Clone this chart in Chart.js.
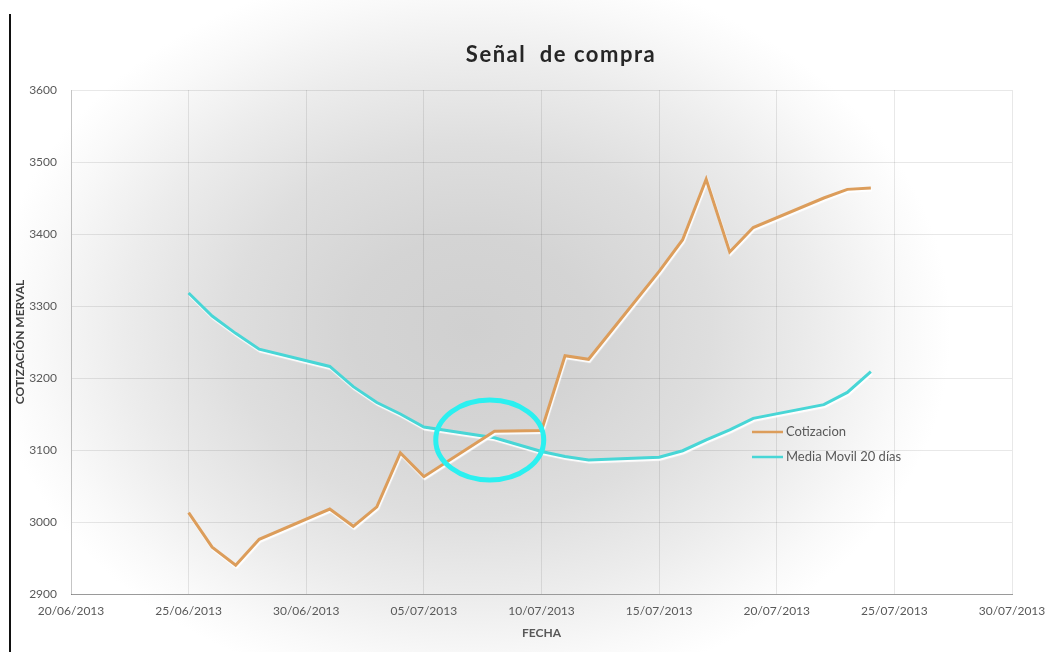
<!DOCTYPE html>
<html>
<head>
<meta charset="utf-8">
<script src="https://cdn.jsdelivr.net/npm/chart.js@4.4.1/dist/chart.umd.min.js"></script>
<style>
  html, body { margin: 0; padding: 0; background: #fff; }
  #wrap { position: relative; width: 1047px; height: 652px; }
</style>
</head>
<body>
<div id="wrap"><canvas id="senalChart" width="1047" height="652"></canvas></div>
<script>
// datos
const fechas = [
  '25/06/2013', '26/06/2013', '27/06/2013', '28/06/2013', '01/07/2013', '02/07/2013',
  '03/07/2013', '04/07/2013', '05/07/2013', '08/07/2013', '10/07/2013', '11/07/2013',
  '12/07/2013', '15/07/2013', '16/07/2013', '17/07/2013', '18/07/2013', '19/07/2013',
  '22/07/2013', '23/07/2013', '24/07/2013'
];
const cotizacion = [
  3013, 2965, 2940, 2976, 3018, 2994, 3021, 3096, 3063, 3126, 3127, 3231,
  3226, 3348, 3392, 3476, 3375, 3409, 3450, 3462, 3464
];
const mediaMovil = [
  3318, 3286, 3262, 3240, 3216, 3188, 3166, 3150, 3132, 3117, 3098, 3091,
  3086, 3090, 3099, 3114, 3128, 3144, 3163, 3180, 3209
];
const fechaInicio = '20/06/2013';
const fechaFin = '30/07/2013';
const yMin = 2900, yMax = 3600, yPaso = 100;
// centro del ovalo que marca el cruce
const cruceFecha = '08/07/2013';
const cruceValor = 3114;

const DIA = 86400000;
function aUTC(s) {
  const [d, m, a] = s.split('/').map(Number);
  return Date.UTC(a, m - 1, d);
}
function diasDesde(s) {
  return Math.round((aUTC(s) - aUTC(fechaInicio)) / DIA);
}
function aTexto(n) {
  const f = new Date(aUTC(fechaInicio) + n * DIA);
  const dd = String(f.getUTCDate()).padStart(2, '0');
  const mm = String(f.getUTCMonth() + 1).padStart(2, '0');
  return `${dd}/${mm}/${f.getUTCFullYear()}`;
}

const serieCot = fechas.map((f, i) => ({ x: diasDesde(f), y: cotizacion[i] }));
const serieMedia = fechas.map((f, i) => ({ x: diasDesde(f), y: mediaMovil[i] }));

const gris = '#595959';
const fuente = 'Lato, "Open Sans", sans-serif';

// fondo con degradado radial suave
const fondoPlugin = {
  id: 'fondo',
  beforeDraw(chart) {
    const { ctx, width, height } = chart;
    ctx.save();
    ctx.fillStyle = '#fff';
    ctx.fillRect(0, 0, width, height);
    ctx.translate(470, 330);
    ctx.scale(1.3, 1);
    const g = ctx.createRadialGradient(0, 0, 0, 0, 0, 370);
    g.addColorStop(0, '#d0d0d0');
    g.addColorStop(0.25, '#d4d4d4');
    g.addColorStop(0.5, '#dedede');
    g.addColorStop(0.72, '#ececec');
    g.addColorStop(0.9, '#f9f9f9');
    g.addColorStop(1, '#ffffff');
    ctx.fillStyle = g;
    ctx.fillRect(-480, -340, 1000, 700);
    ctx.restore();
    // linea negra del borde izquierdo
    ctx.save();
    ctx.strokeStyle = '#111';
    ctx.lineWidth = 2;
    ctx.beginPath();
    ctx.moveTo(10, 14);
    ctx.lineTo(10, height);
    ctx.stroke();
    ctx.restore();
  }
};

// brillo blanco bajo las lineas
const brilloPlugin = {
  id: 'brillo',
  beforeDatasetDraw(chart) {
    const ctx = chart.ctx;
    ctx.save();
    ctx.shadowColor = 'rgba(255,255,255,0.95)';
    ctx.shadowOffsetX = 1;
    ctx.shadowOffsetY = 2;
    ctx.shadowBlur = 1;
  },
  afterDatasetDraw(chart) {
    chart.ctx.restore();
  }
};

// titulo, leyenda y ovalo
const extrasPlugin = {
  id: 'extras',
  afterDraw(chart) {
    const { ctx, chartArea, scales } = chart;
    ctx.save();
    ctx.fillStyle = '#262626';
    ctx.font = 'bold 22px ' + fuente;
    ctx.letterSpacing = '1.5px';
    ctx.textAlign = 'center';
    ctx.textBaseline = 'middle';
    ctx.fillText('Señal  de compra', 561, 55);
    ctx.restore();

    // ovalo del cruce
    const cx = scales.x.getPixelForValue(diasDesde(cruceFecha) - 0.2);
    const cy = scales.y.getPixelForValue(cruceValor);
    ctx.save();
    ctx.strokeStyle = '#2bf0f0';
    ctx.lineWidth = 5;
    ctx.beginPath();
    ctx.ellipse(cx, cy, 54, 40, 0, 0, Math.PI * 2);
    ctx.stroke();
    ctx.restore();

    // leyenda
    const lx = chartArea.left + 681;
    let ly = 432;
    ctx.save();
    ctx.font = '13px ' + fuente;
    ctx.textBaseline = 'middle';
    chart.data.datasets.forEach(ds => {
      ctx.strokeStyle = ds.borderColor;
      ctx.lineWidth = 2.5;
      ctx.beginPath();
      ctx.moveTo(lx, ly);
      ctx.lineTo(lx + 31, ly);
      ctx.stroke();
      ctx.fillStyle = gris;
      ctx.fillText(ds.label, lx + 34, ly);
      ly += 25;
    });
    ctx.restore();
  }
};

const ctx = document.getElementById('senalChart').getContext('2d');
new Chart(ctx, {
  type: 'line',
  data: {
    datasets: [
      {
        label: 'Cotizacion',
        data: serieCot,
        borderColor: '#dc9d5b',
        borderWidth: 3,
        pointRadius: 0,
        tension: 0,
        fill: false
      },
      {
        label: 'Media Movil 20 días',
        data: serieMedia,
        borderColor: '#48d6d6',
        borderWidth: 3,
        pointRadius: 0,
        tension: 0,
        fill: false
      }
    ]
  },
  options: {
    responsive: false,
    animation: false,
    layout: { padding: { top: 90, right: 35, left: 0, bottom: 0 } },
    plugins: {
      legend: { display: false },
      title: { display: false },
      tooltip: { enabled: false }
    },
    scales: {
      x: {
        type: 'linear',
        min: diasDesde(fechaInicio),
        max: diasDesde(fechaFin),
        afterFit: (s) => { s.height = 58; s.paddingLeft = 0; s.paddingRight = 0; },
        ticks: {
          stepSize: 5,
          padding: 10,
          color: gris,
          font: { family: fuente, size: 12 },
          callback: (v) => aTexto(v),
          maxRotation: 0,
          autoSkip: false
        },
        grid: { color: 'rgba(0,0,0,0.09)', drawTicks: false },
        border: { color: '#9a9a9a', width: 1 },
        title: {
          display: true,
          text: 'FECHA',
          color: gris,
          font: { family: fuente, size: 12, weight: 'bold' },
          padding: { top: 0, bottom: 12 }
        }
      },
      y: {
        min: yMin,
        max: yMax,
        afterFit: (s) => { s.width = 71; s.paddingTop = 0; s.paddingBottom = 0; },
        ticks: {
          stepSize: yPaso,
          padding: 14,
          color: gris,
          font: { family: fuente, size: 12 },
          callback: (v) => String(v)
        },
        grid: { color: 'rgba(0,0,0,0.09)', drawTicks: false },
        border: { color: 'rgba(0,0,0,0.15)', width: 1 },
        title: {
          display: true,
          text: 'COTIZACIÓN MERVAL',
          color: '#404040',
          font: { family: fuente, size: 12, weight: 'bold' },
          padding: { top: 13, bottom: 0 }
        }
      }
    }
  },
  plugins: [fondoPlugin, brilloPlugin, extrasPlugin]
});
</script>
</body>
</html>
